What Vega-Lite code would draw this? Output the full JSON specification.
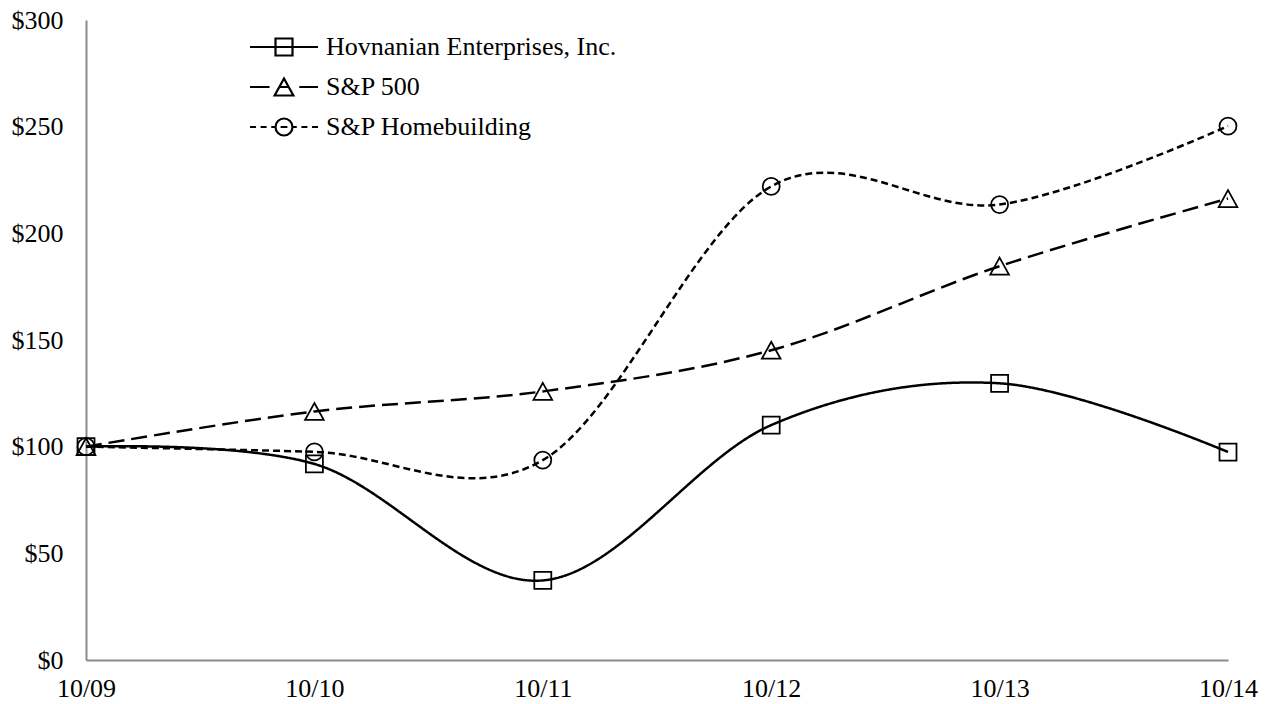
{
  "$schema": "https://vega.github.io/schema/vega-lite/v6.json",
  "width": 1142,
  "height": 640,
  "autosize": {"type": "none"},
  "padding": {"left": 86, "top": 20, "right": 43, "bottom": 44},
  "background": "white",
  "config": {
    "view": {"stroke": null},
    "font": "Liberation Serif",
    "axis": {
      "grid": false,
      "ticks": false,
      "domainColor": "#8c8c8c",
      "domainWidth": 2,
      "labelFont": "Liberation Serif",
      "labelFontSize": 26,
      "labelColor": "black",
      "title": null
    },
    "legend": {
      "title": null,
      "orient": "none",
      "legendX": 185,
      "legendY": 14,
      "padding": 0,
      "labelFont": "Liberation Serif",
      "labelFontSize": 26,
      "labelColor": "black",
      "labelOffset": 29,
      "labelLimit": 600,
      "symbolSize": 289,
      "symbolStrokeWidth": 2.2,
      "symbolStrokeColor": "black",
      "symbolFillColor": "transparent",
      "symbolOpacity": 1,
      "rowPadding": 14
    }
  },
  "data": {
    "values": [
      {"date": "10/09", "series": "Hovnanian Enterprises, Inc.", "value": 100},
      {"date": "10/10", "series": "Hovnanian Enterprises, Inc.", "value": 91.9},
      {"date": "10/11", "series": "Hovnanian Enterprises, Inc.", "value": 37.3},
      {"date": "10/12", "series": "Hovnanian Enterprises, Inc.", "value": 110.1},
      {"date": "10/13", "series": "Hovnanian Enterprises, Inc.", "value": 129.7},
      {"date": "10/14", "series": "Hovnanian Enterprises, Inc.", "value": 97.5},
      {"date": "10/09", "series": "S&P 500", "value": 100},
      {"date": "10/10", "series": "S&P 500", "value": 116.5},
      {"date": "10/11", "series": "S&P 500", "value": 125.9},
      {"date": "10/12", "series": "S&P 500", "value": 145.2},
      {"date": "10/13", "series": "S&P 500", "value": 184.6},
      {"date": "10/14", "series": "S&P 500", "value": 216.3},
      {"date": "10/09", "series": "S&P Homebuilding", "value": 100},
      {"date": "10/10", "series": "S&P Homebuilding", "value": 97.6},
      {"date": "10/11", "series": "S&P Homebuilding", "value": 93.7},
      {"date": "10/12", "series": "S&P Homebuilding", "value": 222.0},
      {"date": "10/13", "series": "S&P Homebuilding", "value": 213.5},
      {"date": "10/14", "series": "S&P Homebuilding", "value": 250.3}
    ]
  },
  "encoding": {
    "x": {
      "field": "date",
      "type": "ordinal",
      "scale": {"type": "point", "padding": 0, "domain": ["10/09", "10/10", "10/11", "10/12", "10/13", "10/14"]},
      "axis": {"labelAngle": 0, "labelPadding": 15, "labelOverlap": false, "labelBound": false}
    },
    "y": {
      "field": "value",
      "type": "quantitative",
      "scale": {"domain": [0, 300], "nice": false, "zero": true},
      "axis": {"values": [0, 50, 100, 150, 200, 250, 300], "labelExpr": "'$' + datum.value", "labelPadding": 23}
    }
  },
  "resolve": {"scale": {"shape": "independent"}, "legend": {"shape": "independent"}},
  "layer": [
    {
      "mark": {"type": "line", "interpolate": "cardinal", "strokeWidth": 2.5, "color": "black"},
      "encoding": {
        "strokeDash": {
          "field": "series",
          "type": "nominal",
          "scale": {"range": [[1, 0], [16, 7], [7, 4]]},
          "legend": null
        }
      }
    },
    {
      "mark": {"type": "point", "filled": false, "color": "black", "strokeWidth": 1.75, "size": 289, "opacity": 1},
      "encoding": {
        "shape": {
          "field": "series",
          "type": "nominal",
          "scale": {"range": ["square", "M0,-1L1.1,1L-1.1,1Z", "circle"]},
          "legend": null
        }
      }
    },
    {
      "mark": {"type": "point", "filled": false, "color": "black", "strokeWidth": 1.75, "size": 289, "opacity": 0},
      "encoding": {
        "shape": {
          "field": "series",
          "type": "nominal",
          "scale": {
            "domain": ["Hovnanian Enterprises, Inc.", "S&P 500", "S&P Homebuilding"],
            "range": [
              "M-4,0H4M-1,-1H1V1H-1Z",
              "M-4,0H-1.7M-0.6,0H0.6M1.8,0H4M0,-1L1.1,1L-1.1,1Z",
              "M-4,0H-3.3M-2.75,0H-2.05M-1.5,0H-1M-0.4,0H0.4M1,0H1.5M2.05,0H2.75M3.3,0H4M1,0A1,1,0,1,1,-1,0A1,1,0,1,1,1,0Z"
            ]
          },
          "legend": {"symbolOpacity": 1}
        }
      }
    }
  ]
}
